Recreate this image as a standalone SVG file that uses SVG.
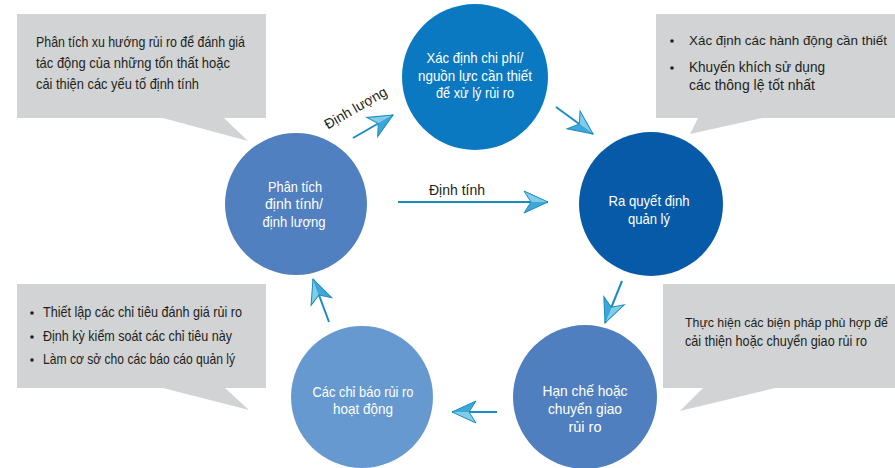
<svg xmlns="http://www.w3.org/2000/svg" width="895" height="468" viewBox="0 0 895 468">
<style>
.callout{fill:#d1d3d4}
.ct{font-family:"Liberation Sans",Arial,sans-serif;font-size:14.5px;fill:#231f20}
.ct.sm{font-size:13.1px}
.ct.xs{font-size:12.4px}
.nt{font-family:"Liberation Sans",Arial,sans-serif;font-size:14.5px;fill:#ffffff;text-anchor:middle}
.lbl{font-family:"Liberation Sans",Arial,sans-serif;font-size:14px;fill:#231f20}
.conn{stroke:#1a8cc4;stroke-width:2;fill:none;marker-end:url(#ah)}
</style>
<defs>
<marker id="ah" viewBox="-27 -13 29 26" refX="0" refY="0" markerWidth="29" markerHeight="26" markerUnits="userSpaceOnUse" orient="auto" overflow="visible">
<path d="M0,0 L-24,-11 L-17,0 Z" fill="#7fcdeb"/>
<path d="M0,0 L-17,0 L-24,11 Z" fill="#3fa7d8"/>
<path d="M0,0 L-24,-11 L-17,0 L-24,11 Z" fill="none" stroke="#1a8cc2" stroke-width="1" stroke-linejoin="miter"/>
</marker>
</defs>
<rect width="895" height="468" fill="#ffffff"/>

<g id="callout-top-left">
<path class="callout" d="M17,14 H266 V118 H224 L248,141 L163,118 H17 Z"/>
<text class="ct" x="36" y="47" textLength="209" lengthAdjust="spacingAndGlyphs">Phân tích xu hướng rủi ro để đánh giá</text>
<text class="ct" x="36" y="68" textLength="194" lengthAdjust="spacingAndGlyphs">tác động của những tổn thất hoặc</text>
<text class="ct" x="36" y="89" textLength="163" lengthAdjust="spacingAndGlyphs">cải thiện các yếu tố định tính</text>
</g>

<g id="callout-top-right">
<path class="callout" d="M656,14 H895 V118 H762 L690,134 L698,118 H656 Z"/>
<circle cx="672" cy="41" r="1.8" fill="#231f20"/>
<circle cx="672" cy="68" r="1.8" fill="#231f20"/>
<text class="ct sm" x="689" y="45" textLength="198" lengthAdjust="spacingAndGlyphs">Xác định các hành động cần thiết</text>
<text class="ct" x="689" y="72" textLength="136" lengthAdjust="spacingAndGlyphs">Khuyến khích sử dụng</text>
<text class="ct" x="689" y="90" textLength="126" lengthAdjust="spacingAndGlyphs">các thông lệ tốt nhất</text>
</g>

<g id="callout-bottom-left">
<path class="callout" d="M17,284 H266 V388 H225 L249,410 L163,388 H17 Z"/>
<circle cx="32" cy="313" r="1.8" fill="#231f20"/>
<circle cx="32" cy="337" r="1.8" fill="#231f20"/>
<circle cx="32" cy="360" r="1.8" fill="#231f20"/>
<text class="ct" x="43" y="317" textLength="199" lengthAdjust="spacingAndGlyphs">Thiết lập các chỉ tiêu đánh giá rủi ro</text>
<text class="ct" x="43" y="341" textLength="189" lengthAdjust="spacingAndGlyphs">Định kỳ kiểm soát các chỉ tiêu này</text>
<text class="ct" x="43" y="364" textLength="192" lengthAdjust="spacingAndGlyphs">Làm cơ sở cho các báo cáo quản lý</text>
</g>

<g id="callout-bottom-right">
<path class="callout" d="M663,284 H895 V388 H775 L680,411 L703,388 H663 Z"/>
<text class="ct xs" x="685" y="327" textLength="203" lengthAdjust="spacingAndGlyphs">Thực hiện các biện pháp phù hợp để</text>
<text class="ct" x="685" y="346" textLength="182" lengthAdjust="spacingAndGlyphs">cải thiện hoặc chuyển giao rủi ro</text>
</g>

<g id="node-cost">
<circle cx="475" cy="77" r="73" fill="#0a79c1"/>
<text class="nt" x="475" y="63" textLength="97" lengthAdjust="spacingAndGlyphs">Xác định chi phí/</text>
<text class="nt" x="475" y="81" textLength="114" lengthAdjust="spacingAndGlyphs">nguồn lực cần thiết</text>
<text class="nt" x="475" y="98" textLength="78" lengthAdjust="spacingAndGlyphs">để xử lý rủi ro</text>
</g>

<g id="node-decision">
<circle cx="651" cy="204" r="72" fill="#075aa8"/>
<text class="nt" x="649" y="206" textLength="81" lengthAdjust="spacingAndGlyphs">Ra quyết định</text>
<text class="nt" x="649" y="224" textLength="42" lengthAdjust="spacingAndGlyphs">quản lý</text>
</g>

<g id="node-analysis">
<circle cx="296" cy="204" r="71" fill="#5080bf"/>
<text class="nt" x="295" y="192" textLength="54" lengthAdjust="spacingAndGlyphs">Phân tích</text>
<text class="nt" x="294" y="209" textLength="58" lengthAdjust="spacingAndGlyphs">định tính/</text>
<text class="nt" x="294" y="227" textLength="63" lengthAdjust="spacingAndGlyphs">định lượng</text>
</g>

<g id="node-indicators">
<circle cx="362" cy="397" r="71" fill="#6699d0"/>
<text class="nt" x="363" y="397" textLength="101" lengthAdjust="spacingAndGlyphs">Các chỉ báo rủi ro</text>
<text class="nt" x="363" y="414" textLength="60" lengthAdjust="spacingAndGlyphs">hoạt động</text>
</g>

<g id="node-mitigate">
<circle cx="585" cy="397" r="72" fill="#4f7fbe"/>
<text class="nt" x="585" y="396" textLength="85" lengthAdjust="spacingAndGlyphs">Hạn chế hoặc</text>
<text class="nt" x="585" y="414" textLength="74" lengthAdjust="spacingAndGlyphs">chuyển giao</text>
<text class="nt" x="585" y="432">rủi ro</text>
</g>

<g id="connectors">
<line class="conn" x1="353" y1="138" x2="393" y2="115"/>
<line class="conn" x1="398" y1="202" x2="548" y2="202"/>
<line class="conn" x1="556" y1="107" x2="593" y2="134"/>
<line class="conn" x1="622" y1="281" x2="605" y2="323"/>
<line class="conn" x1="497" y1="412" x2="452" y2="412"/>
<line class="conn" x1="329" y1="322" x2="313" y2="279"/>
<text class="lbl" transform="translate(358,112) rotate(-30)" text-anchor="middle">Định lượng</text>
<text class="lbl" x="429" y="195">Định tính</text>
</g>
</svg>
